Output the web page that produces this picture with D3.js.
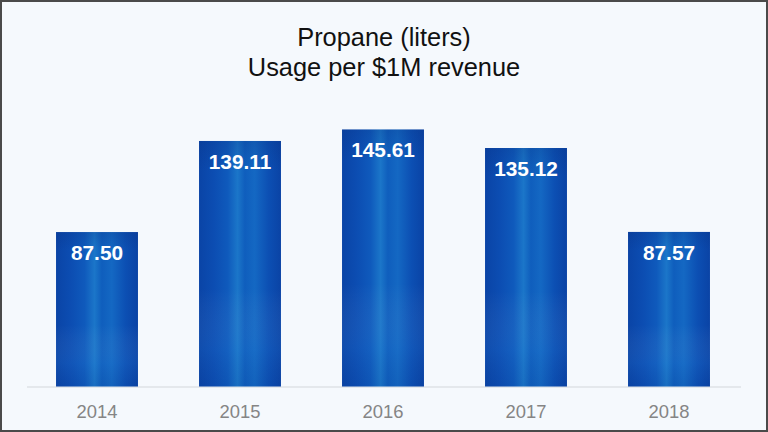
<!DOCTYPE html>
<html><head><meta charset="utf-8">
<script src="https://cdn.jsdelivr.net/npm/d3@7"></script>
<style>
html,body{margin:0;padding:0;background:#fff;}
svg{display:block;}
</style></head>
<body>
<script>
const years = ["2014","2015","2016","2017","2018"];
const values = [87.50, 139.11, 145.61, 135.12, 87.57];
const titleLines = ["Propane (liters)", "Usage per $1M revenue"];

const W = 768, H = 432;
const svg = d3.select("body").append("svg").attr("width", W).attr("height", H);
const defs = svg.append("defs");

const g1 = defs.append("linearGradient").attr("id","barGrad").attr("x1","0").attr("x2","1").attr("y1","0").attr("y2","0");
[["0%","#0a44a6"],["18%","#0c4db2"],["35%","#0f5abc"],["47%","#1b76c9"],["56%","#0f5ebd"],["68%","#1468c3"],["85%","#0c4fb3"],["100%","#0a43a5"]]
  .forEach(([o,c]) => g1.append("stop").attr("offset",o).attr("stop-color",c));
const g2 = defs.append("linearGradient").attr("id","barShade").attr("x1","0").attr("x2","0").attr("y1","0").attr("y2","1");
[["0%","#08307e",0.25],["12%","#08307e",0.0],["60%","#ffffff",0.0],["85%","#3a8ee0",0.12],["100%","#08307e",0.1]]
  .forEach(([o,c,a]) => g2.append("stop").attr("offset",o).attr("stop-color",c).attr("stop-opacity",a));

// background and frame
svg.append("rect").attr("x",0).attr("y",0).attr("width",W).attr("height",H).attr("fill","#f5f9fd");
svg.append("rect").attr("x",1).attr("y",1).attr("width",W-2).attr("height",H-2)
  .attr("fill","none").attr("stroke","#4a4a4a").attr("stroke-width",2);

const x = d3.scaleBand().domain(years).range([25.5, 740.5]).paddingInner(0.427).paddingOuter(0.2135);
const y = d3.scaleLinear().domain([0, 160]).range([386.5, 104.1]);

// baseline
svg.append("line").attr("x1",27).attr("x2",741).attr("y1",y(0)+0.5).attr("y2",y(0)+0.5)
  .attr("stroke","#d3d7dc").attr("stroke-width",1.2);

const bars = svg.append("g");
const data = years.map((yr,i)=>({yr, v: values[i]}));
bars.selectAll("rect.b").data(data).join("rect").attr("class","b")
  .attr("x", d=>x(d.yr)).attr("width", x.bandwidth())
  .attr("y", d=>y(d.v)).attr("height", d=>y(0)-y(d.v))
  .attr("fill","url(#barGrad)");
bars.selectAll("rect.s").data(data).join("rect").attr("class","s")
  .attr("x", d=>x(d.yr)).attr("width", x.bandwidth())
  .attr("y", d=>y(d.v)).attr("height", d=>y(0)-y(d.v))
  .attr("fill","url(#barShade)");

bars.selectAll("text").data(data).join("text")
  .attr("x", d=>x(d.yr)+x.bandwidth()/2).attr("y", d=>y(d.v)+28)
  .attr("text-anchor","middle").attr("fill","#ffffff")
  .style("font-family","'Liberation Sans', Arial, sans-serif").style("font-weight","bold").style("font-size","20.8px")
  .text(d=>d.v.toFixed(2));

// x axis labels
const ax = svg.append("g").attr("transform",`translate(0,${y(0)})`)
  .call(d3.axisBottom(x).tickSize(0).tickPadding(0));
ax.select(".domain").remove();
ax.selectAll("text").attr("dy",0).attr("y",31.5).attr("fill","#858585")
  .style("font-family","'Liberation Sans', Arial, sans-serif").style("font-size","18.4px");

// title
svg.append("g").selectAll("text").data(titleLines).join("text")
  .attr("x", W/2).attr("y",(d,i)=>46+i*29.5)
  .attr("text-anchor","middle").attr("fill","#111")
  .style("font-family","'Liberation Sans', Arial, sans-serif").style("font-size","25.4px")
  .text(d=>d);
</script>
</body></html>
